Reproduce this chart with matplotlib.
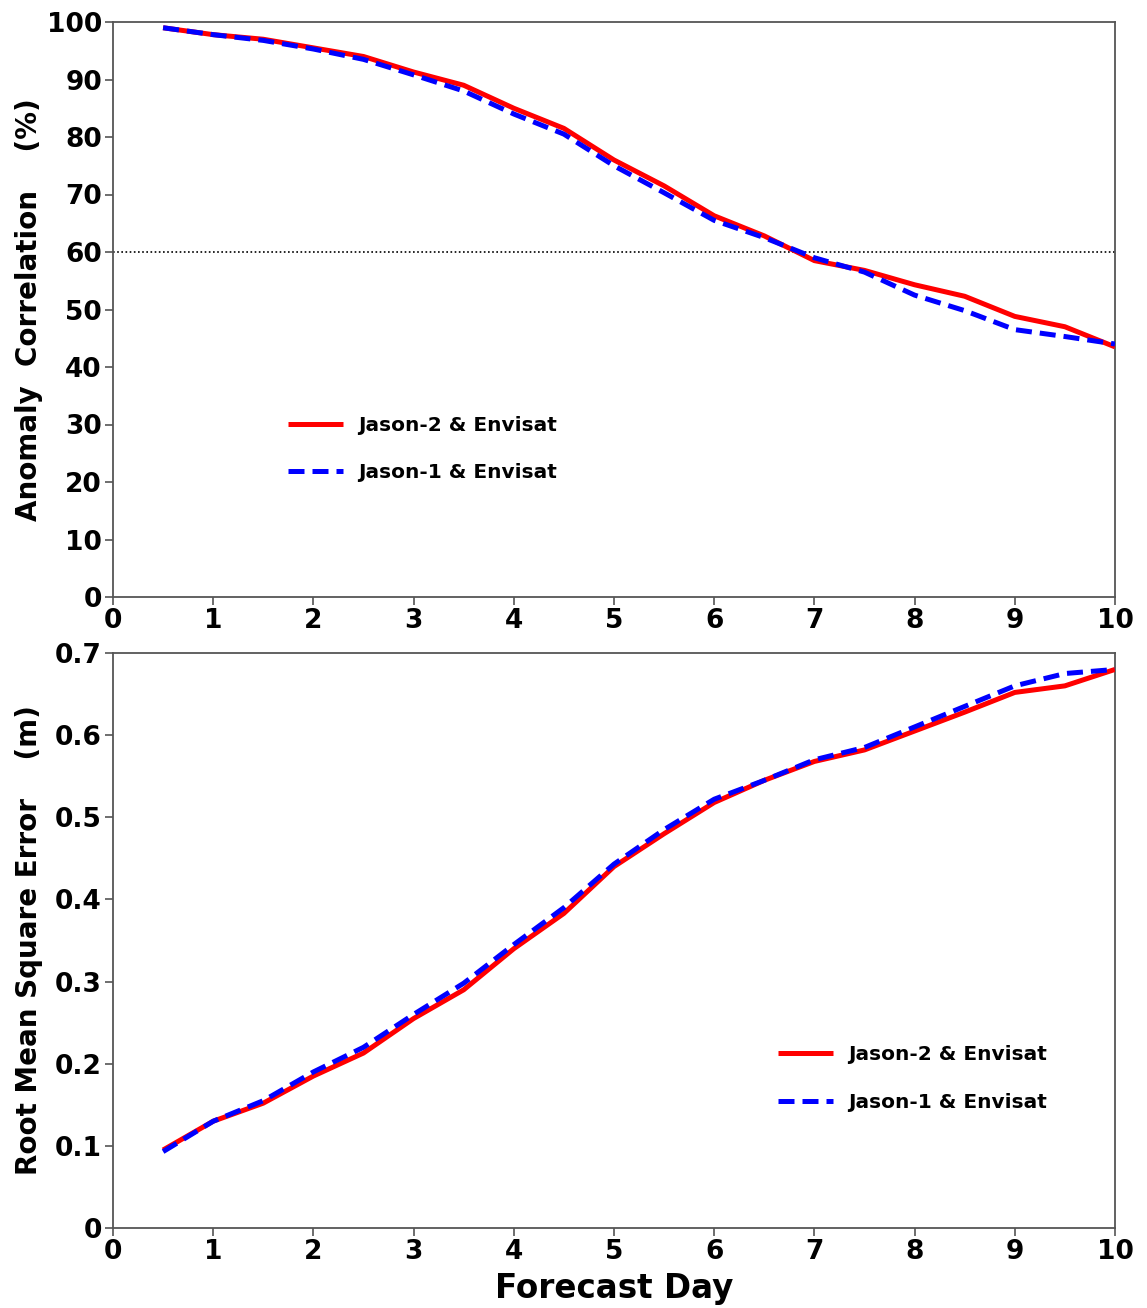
import matplotlib
matplotlib.use("Agg")
import matplotlib.pyplot as plt

plt.rcParams['font.family'] = ['DejaVu Sans']
plt.rcParams['font.weight'] = 'bold'

days = [0.5, 1, 1.5, 2, 2.5, 3, 3.5, 4, 4.5, 5, 5.5, 6, 6.5, 7, 7.5, 8, 8.5, 9, 9.5, 10]

ac_jason2 = [99, 97.8, 97, 95.5, 94, 91.3, 89, 85, 81.5, 76, 71.5, 66.3, 62.8, 58.5, 56.8, 54.3, 52.3, 48.8, 47, 43.5]
ac_jason1 = [99, 97.8, 96.8, 95.3, 93.5, 90.8, 88, 84, 80.5, 75, 70.3, 65.5, 62.5, 59, 56.5, 52.5, 49.8, 46.5, 45.3, 44]

rmse_jason2 = [0.095, 0.13, 0.152, 0.185, 0.213, 0.255, 0.29, 0.34, 0.383, 0.44, 0.48, 0.518, 0.545, 0.568, 0.582, 0.605, 0.628, 0.652, 0.66, 0.68]
rmse_jason1 = [0.093, 0.13, 0.155, 0.19, 0.22, 0.26, 0.298, 0.345, 0.39, 0.443, 0.485, 0.522, 0.545, 0.57, 0.585, 0.61, 0.635, 0.66, 0.675, 0.68]

labels = ["Jason-2 & Envisat", "Jason-1 & Envisat"]
xticks = list(range(0, 11))
ac_ticks = list(range(0, 101, 10))
rmse_ticks = [0, 0.1, 0.2, 0.3, 0.4, 0.5, 0.6, 0.7]
rmse_ticklabels = ["0", "0.1", "0.2", "0.3", "0.4", "0.5", "0.6", "0.7"]

W, H = 1147, 1308
fig = plt.figure(figsize=(W / 100, H / 100), dpi=100)

def frac(l, t, r, b):
    return [l / W, 1 - b / H, (r - l) / W, (b - t) / H]

ax1 = fig.add_axes(frac(113, 22, 1115, 597))
ax2 = fig.add_axes(frac(113, 653, 1115, 1228))

red = '#ff0000'
blue = '#0000ff'
TICK_FS = 19

def style(ax):
    for s in ax.spines.values():
        s.set_color('#555555')
        s.set_linewidth(1.3)
    ax.tick_params(direction='out', length=6, width=1.2, color='#555555',
                   labelsize=TICK_FS, pad=2)
    ax.set_xlim(0, 10)
    ax.set_xticks(xticks)
    ax.set_xticklabels([str(v) for v in xticks], fontsize=TICK_FS, fontweight='bold')

leg_kw = dict(loc='center left', frameon=False,
              prop={'size': 14.5, 'weight': 'bold'}, handlelength=2.7, handletextpad=0.75,
              labelspacing=1.4, borderpad=0, borderaxespad=0)

# Top panel
ax1.plot(days, ac_jason2, color=red, lw=3.6, solid_capstyle='butt', label=labels[0], zorder=3)
ax1.plot(days, ac_jason1, color=blue, lw=3.6, dashes=(3.2, 1.6), label=labels[1], zorder=4)
ax1.axhline(60, color='black', lw=1.2, ls=(0, (1, 1.5)), zorder=2)
ax1.set_ylim(0, 100)
ax1.set_yticks(ac_ticks)
ax1.set_yticklabels([str(v) for v in ac_ticks], fontsize=TICK_FS, fontweight='bold')
style(ax1)
ax1.set_ylabel("Anomaly  Correlation    (%)", fontsize=20, fontweight='bold')
ax1.yaxis.set_label_coords(-0.07, 0.5)
ax1.legend(bbox_to_anchor=(0.175, 0.257), **leg_kw)

# Bottom panel
ax2.plot(days, rmse_jason2, color=red, lw=3.6, solid_capstyle='butt', label=labels[0], zorder=3)
ax2.plot(days, rmse_jason1, color=blue, lw=3.6, dashes=(3.2, 1.6), label=labels[1], zorder=4)
ax2.set_ylim(0, 0.7)
ax2.set_yticks(rmse_ticks)
ax2.set_yticklabels(rmse_ticklabels, fontsize=TICK_FS, fontweight='bold')
style(ax2)
ax2.set_ylabel("Root Mean Square Error    (m)", fontsize=20, fontweight='bold')
ax2.yaxis.set_label_coords(-0.07, 0.5)
ax2.set_xlabel("Forecast Day", fontsize=23.5, fontweight='bold', labelpad=5)
ax2.legend(bbox_to_anchor=(0.664, 0.26), **leg_kw)

fig.savefig("out.png", dpi=100)
